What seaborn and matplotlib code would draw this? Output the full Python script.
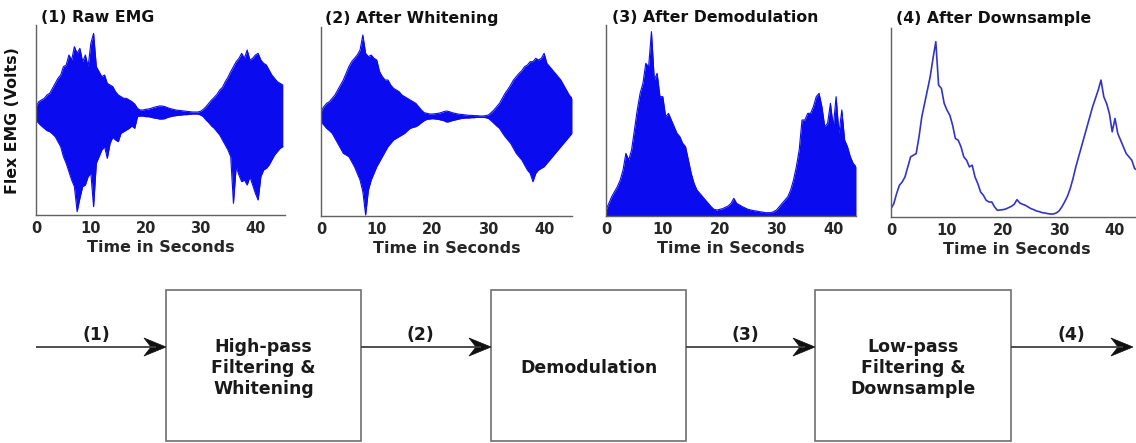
import numpy as np
import pandas as pd
import matplotlib
matplotlib.use("Agg")
import matplotlib.pyplot as plt
import seaborn as sns
from matplotlib.patches import Rectangle, Polygon

# ---------------- data ----------------
t_full = np.arange(0, 45.01, 0.5)      # 0 .. 45 s, 0.5 s steps
t_demod = np.arange(0, 44.01, 0.5)     # 0 .. 44 s

raw_upper = [0.20, 0.35, 0.40, 0.45, 0.55, 0.60, 0.75, 0.90, 1.05, 1.15,
             1.40, 1.45, 1.75, 1.60, 2.00, 1.80, 1.95, 1.55, 1.75, 1.40,
             2.10, 2.40, 1.40, 1.25, 1.10, 1.15, 0.90, 0.85, 0.80, 0.65,
             0.55, 0.50, 0.45, 0.45, 0.40, 0.35, 0.28, 0.15, 0.10, 0.10,
             0.12, 0.13, 0.15, 0.18, 0.20, 0.22, 0.22, 0.20, 0.17, 0.14,
             0.12, 0.10, 0.09, 0.08, 0.07, 0.06, 0.05, 0.04, 0.04, 0.04,
             0.06, 0.12, 0.20, 0.30, 0.40, 0.48, 0.57, 0.70, 0.78, 0.95,
             1.08, 1.25, 1.40, 1.55, 1.65, 1.80, 1.65, 1.90, 1.60, 1.65,
             1.75, 1.80, 1.60, 1.50, 1.45, 1.30, 1.15, 1.05, 0.95, 0.90,
             0.85]
raw_lower = [-0.20, -0.30, -0.38, -0.45, -0.52, -0.55, -0.62, -0.70, -0.85, -1.00,
             -1.30, -1.50, -1.75, -2.00, -2.20, -2.95, -2.55, -2.20, -2.15, -1.90,
             -1.80, -2.80, -1.50, -1.30, -1.10, -1.00, -1.35, -0.90, -0.72, -0.80,
             -0.85, -0.60, -0.55, -0.50, -0.45, -0.38, -0.45, -0.10, -0.08, -0.08,
             -0.10, -0.10, -0.12, -0.14, -0.15, -0.17, -0.17, -0.16, -0.12, -0.10,
             -0.08, -0.07, -0.06, -0.05, -0.04, -0.04, -0.03, -0.02, -0.02, -0.02,
             -0.05, -0.10, -0.20, -0.28, -0.38, -0.45, -0.55, -0.65, -0.80, -0.95,
             -1.10, -1.30, -2.70, -1.60, -1.85, -2.05, -2.00, -2.15, -1.90, -2.15,
             -2.40, -2.60, -1.90, -1.70, -1.65, -1.55, -1.40, -1.25, -1.15, -1.05,
             -1.00]

white_upper = [0.15, 0.30, 0.40, 0.45, 0.55, 0.65, 0.80, 0.95, 1.10, 1.30,
               1.50, 1.65, 1.75, 1.85, 2.00, 2.45, 1.90, 1.80, 1.85, 1.75,
               1.70, 1.35, 1.20, 1.10, 1.10, 0.95, 0.85, 0.80, 0.75, 0.65,
               0.60, 0.55, 0.50, 0.45, 0.40, 0.30, 0.20, 0.12, 0.10, 0.08,
               0.08, 0.09, 0.10, 0.12, 0.15, 0.17, 0.15, 0.12, 0.10, 0.08,
               0.07, 0.06, 0.05, 0.04, 0.04, 0.03, 0.03, 0.02, 0.02, 0.03,
               0.05, 0.12, 0.20, 0.30, 0.40, 0.55, 0.70, 0.82, 0.95, 1.10,
               1.20, 1.30, 1.38, 1.50, 1.55, 1.65, 1.65, 1.75, 1.70, 1.75,
               1.90, 1.60, 1.50, 1.40, 1.30, 1.20, 1.10, 0.95, 0.80, 0.65,
               0.55]
white_lower = [-0.15, -0.25, -0.35, -0.42, -0.50, -0.65, -0.80, -0.95, -1.10, -1.15,
               -1.20, -1.35, -1.50, -1.70, -1.90, -2.25, -2.95, -2.20, -1.90, -1.70,
               -1.50, -1.35, -1.20, -1.05, -0.90, -0.80, -0.70, -0.65, -0.60, -0.55,
               -0.50, -0.42, -0.35, -0.32, -0.30, -0.25, -0.18, -0.12, -0.08, -0.07,
               -0.06, -0.07, -0.08, -0.10, -0.12, -0.16, -0.15, -0.12, -0.10, -0.08,
               -0.06, -0.05, -0.04, -0.04, -0.03, -0.03, -0.02, -0.02, -0.02, -0.03,
               -0.05, -0.12, -0.20, -0.28, -0.35, -0.48, -0.60, -0.70, -0.80, -0.95,
               -1.10, -1.20, -1.30, -1.45, -1.60, -1.70, -1.95, -1.70, -1.60, -1.55,
               -1.50, -1.40, -1.30, -1.20, -1.10, -1.00, -0.90, -0.80, -0.70, -0.60,
               -0.50]

demod = [0.18, 0.38, 0.58, 0.73, 0.88, 1.08, 1.38, 1.88, 1.68, 1.98,
         2.58, 3.18, 3.68, 3.98, 4.58, 4.48, 5.53, 4.08, 4.28, 3.58,
         3.58, 2.98, 3.08, 2.88, 2.68, 2.48, 2.38, 2.18, 2.08, 1.68,
         1.28, 0.98, 0.78, 0.68, 0.58, 0.48, 0.38, 0.28, 0.20, 0.18,
         0.20, 0.22, 0.26, 0.30, 0.38, 0.53, 0.38, 0.33, 0.28, 0.24,
         0.20, 0.18, 0.16, 0.15, 0.13, 0.12, 0.10, 0.10, 0.10, 0.13,
         0.18, 0.28, 0.38, 0.48, 0.58, 0.78, 1.08, 1.48, 1.98, 2.88,
         2.88, 3.08, 3.08, 3.28, 3.58, 3.68, 3.28, 2.68, 2.78, 3.38,
         2.68, 3.58, 2.48, 3.18, 2.28, 2.08, 1.78, 1.58, 1.48]

downsampled = [0.25, 0.40, 0.70, 0.95, 1.05, 1.20, 1.50, 1.80, 1.85, 1.90,
               2.40, 3.00, 3.40, 3.80, 4.20, 4.75, 5.25, 3.95, 3.85, 3.40,
               3.20, 3.05, 2.75, 2.35, 2.30, 2.10, 1.80, 1.70, 1.50, 1.55,
               1.20, 1.00, 0.75, 0.65, 0.50, 0.45, 0.45, 0.30, 0.20, 0.21,
               0.22, 0.24, 0.28, 0.32, 0.38, 0.52, 0.42, 0.38, 0.35, 0.30,
               0.25, 0.22, 0.18, 0.16, 0.13, 0.12, 0.10, 0.09, 0.09, 0.12,
               0.18, 0.30, 0.45, 0.62, 0.85, 1.15, 1.50, 1.80, 2.10, 2.40,
               2.70, 3.00, 3.30, 3.55, 3.80, 4.10, 3.60, 3.40, 3.10, 2.55,
               2.95, 2.50, 2.30, 2.10, 1.90, 1.80, 1.70, 1.45, 1.40, 1.30,
               1.20]

panel_titles = ["(1) Raw EMG", "(2) After Whitening",
                "(3) After Demodulation", "(4) After Downsample"]
x_ticks = [0, 10, 20, 30, 40]
x_label = "Time in Seconds"
y_label = "Flex EMG (Volts)"
stage_labels = ["(1)", "(2)", "(3)", "(4)"]
box_texts = ["High-pass\nFiltering &\nWhitening", "Demodulation",
             "Low-pass\nFiltering &\nDownsample"]

# ---------------- style ----------------
sns.set_style("white")
plt.rcParams["font.family"] = ["DejaVu Sans"]
plt.rcParams["font.weight"] = "bold"

W, H = 1136, 443
fig = plt.figure(figsize=(W / 100, H / 100), dpi=100)
fig.patch.set_facecolor("white")

BLUE = "#0b0bef"
SPINE = "#606060"

def px_axes(left, top, right, bottom):
    return fig.add_axes([left / W, 1 - bottom / H, (right - left) / W, (bottom - top) / H])

# diagram overlay (pixel coordinates)
axd = fig.add_axes([0, 0, 1, 1])
axd.set_xlim(0, W)
axd.set_ylim(H, 0)
axd.axis("off")

# panel axes  (left, top, right, bottom) in pixels, and x limits
panel_geo = [((36, 25, 285, 215), 45.4, (-3.05, 2.65)),
             ((321, 27, 572, 216), 45.0, (-2.98, 2.69)),
             ((606, 25, 856, 216), 44.0, (0, 5.73)),
             ((891, 28, 1143, 217), 45.0, (0, 5.66))]
axes = [px_axes(*g[0]) for g in panel_geo]

# (1) raw EMG
df1 = pd.DataFrame({"t": t_full, "hi": raw_upper, "lo": raw_lower})
axes[0].fill_between(df1["t"], df1["lo"], df1["hi"], color=BLUE, lw=0)
sns.lineplot(data=df1, x="t", y="hi", ax=axes[0], color=BLUE, lw=0.8, legend=False)
sns.lineplot(data=df1, x="t", y="lo", ax=axes[0], color=BLUE, lw=0.8, legend=False)

# (2) after whitening
df2 = pd.DataFrame({"t": t_full, "hi": white_upper, "lo": white_lower})
axes[1].fill_between(df2["t"], df2["lo"], df2["hi"], color=BLUE, lw=0)
sns.lineplot(data=df2, x="t", y="hi", ax=axes[1], color=BLUE, lw=0.8, legend=False)
sns.lineplot(data=df2, x="t", y="lo", ax=axes[1], color=BLUE, lw=0.8, legend=False)

# (3) after demodulation
df3 = pd.DataFrame({"t": t_demod, "v": demod})
axes[2].fill_between(df3["t"], 0, df3["v"], color=BLUE, lw=0)
sns.lineplot(data=df3, x="t", y="v", ax=axes[2], color=BLUE, lw=0.8, legend=False)

# (4) after downsample
df4 = pd.DataFrame({"t": t_full, "v": downsampled})
sns.lineplot(data=df4, x="t", y="v", ax=axes[3], color="#3434c4", lw=1.2, legend=False)

title_x = [41, 325, 612, 896]
for ax, (geo, xmax, ylim), title, tx in zip(axes, panel_geo, panel_titles, title_x):
    ax.set_xlim(0, xmax)
    ax.set_ylim(*ylim)
    ax.set_facecolor("none")
    sns.despine(ax=ax)
    for s in ("left", "bottom"):
        ax.spines[s].set_color(SPINE)
        ax.spines[s].set_linewidth(1.0)
    ax.set_yticks([])
    ax.set_xticks(x_ticks)
    ax.set_xticklabels([str(v) for v in x_ticks], fontsize=10.5, fontweight="bold")
    ax.tick_params(axis="x", direction="in", length=3, color=SPINE, pad=4)
    ax.set_xlabel(x_label, fontsize=11.5, fontweight="bold", labelpad=3)
    ax.set_ylabel("")
    fig.text(tx / W, 1 - 18 / H, title, fontsize=11.3, fontweight="bold",
             ha="left", va="center", color="#111111")

fig.text(13 / W, 1 - 121 / H, y_label, rotation=90, fontsize=11.3,
         fontweight="bold", ha="center", va="center", color="#111111")

# ---------------- block diagram ----------------
boxes = [(166, 361), (491, 686), (815, 1011)]
box_top, box_bot = 290, 441
arrow_y = 347
for (x0, x1), txt in zip(boxes, box_texts):
    axd.add_patch(Rectangle((x0, box_top), x1 - x0, box_bot - box_top,
                            fill=False, ec="#707070", lw=1.2))
    axd.text((x0 + x1) / 2, 368, txt, ha="center", va="center",
             fontsize=12.5, fontweight="bold", color="#1a1a1a", linespacing=1.2)

arrows = [(36, 166), (361, 491), (686, 815), (1011, 1133)]
label_x = [96, 420, 745, 1071]
for (xa, xb), lab, lx in zip(arrows, stage_labels, label_x):
    axd.plot([xa, xb - 10], [arrow_y, arrow_y], color="#404040", lw=1.3,
             solid_capstyle="butt")
    head = Polygon([(xb, arrow_y), (xb - 22, arrow_y - 9), (xb - 15, arrow_y),
                    (xb - 22, arrow_y + 9)], closed=True, fc="#111111", ec="#111111", lw=0.5)
    axd.add_patch(head)
    axd.text(lx, 335, lab, ha="center", va="center", fontsize=12.4,
             fontweight="bold", color="#1a1a1a")

fig.savefig("out.png", dpi=100, facecolor="white")
